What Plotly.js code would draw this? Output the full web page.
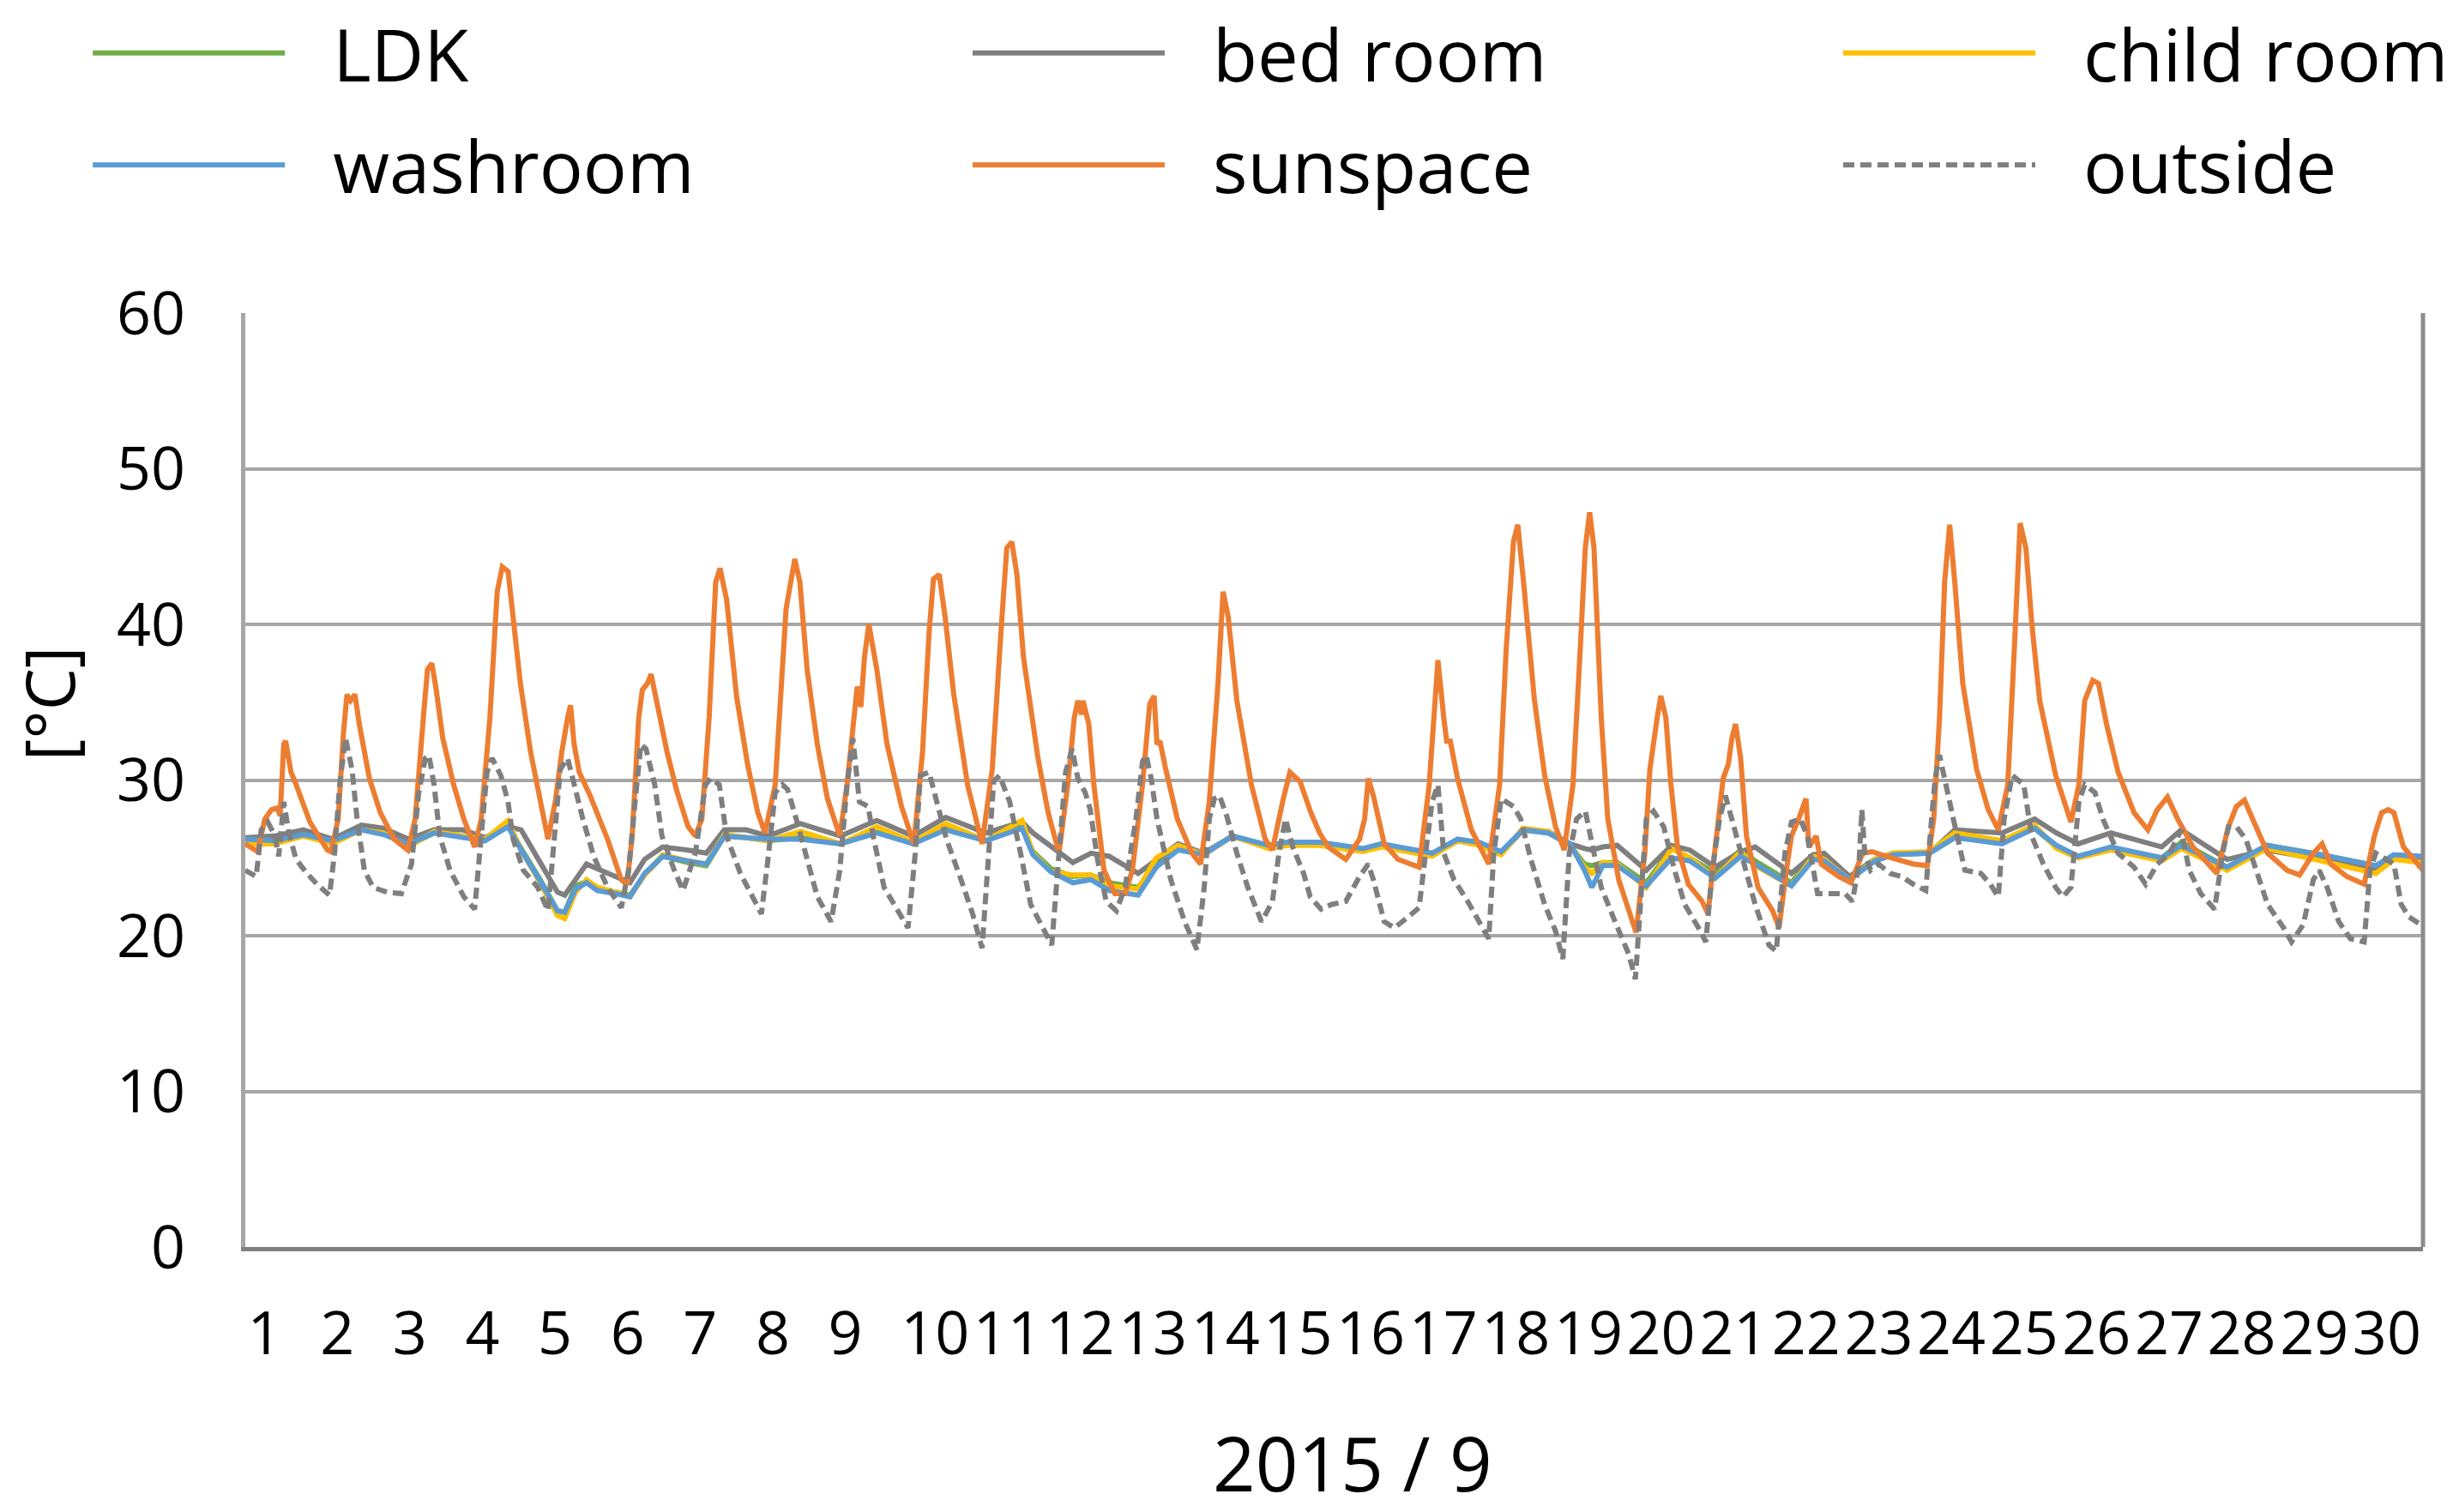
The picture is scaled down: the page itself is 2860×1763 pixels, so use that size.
<!DOCTYPE html>
<html>
<head>
<meta charset="utf-8">
<script src="https://cdn.plot.ly/plotly-3.0.1.min.js"></script>
<style>
  html, body { margin: 0; padding: 0; background: #fff; }
  #chart { width: 2860px; height: 1763px; }
</style>
</head>
<body>
<div id="chart"></div>
<script>
// September 2015, x = days since 1 Sep 00:00
const dayLabels = ['1','2','3','4','5','6','7','8','9','10','11','12','13','14','15',
  '16','17','18','19','20','21','22','23','24','25','26','27','28','29','30'];
const dayStarts = [0,1,2,3,4,5,6,7,8,9,10,11,12,13,14,15,16,17,18,19,20,21,22,23,24,25,26,27,28,29];

// indoor rooms share one time grid
const tIndoor = [
  0, 0.4, 0.8, 1.2, 1.6, 1.9, 2.25, 2.6, 3.0, 3.3,
  3.62, 3.8, 4.05, 4.3, 4.4, 4.55, 4.7, 4.85, 5.1, 5.3,
  5.5, 5.75, 6.1, 6.35, 6.6, 6.9, 7.2, 7.65, 8.2, 8.7,
  9.2, 9.65, 10.2, 10.7, 10.85, 11.1, 11.4, 11.65, 11.9, 12.3,
  12.55, 12.85, 13.2, 13.6, 14.1, 14.35, 14.8, 15.1, 15.4, 15.65,
  16.0, 16.35, 16.7, 17.0, 17.3, 17.6, 17.95, 18.25, 18.45, 18.55,
  18.7, 18.9, 19.3, 19.65, 19.9, 20.25, 20.6, 20.8, 21.3, 21.6,
  21.75, 22.1, 22.45, 22.7, 23.2, 23.55, 24.2, 24.65, 24.95, 25.25,
  25.7, 26.4, 26.67, 27.3, 27.85, 28.6, 29.35, 29.6, 30.0
];
const ldk = [
  26.1, 26.0, 26.5, 26.0, 26.8, 26.6, 25.8, 26.6, 26.4, 26.1,
  27.1, 25.6, 23.7, 21.6, 21.5, 23.2, 23.5, 23.0, 22.8, 22.6,
  23.9, 25.1, 24.7, 24.5, 26.4, 26.3, 26.1, 26.3, 25.9, 26.8,
  25.9, 27.0, 26.1, 27.0, 25.4, 24.3, 23.8, 23.9, 23.4, 23.1,
  24.6, 25.6, 25.2, 26.4, 25.7, 25.9, 25.9, 25.7, 25.5, 25.8,
  25.5, 25.2, 26.1, 25.9, 25.3, 26.8, 26.6, 25.8, 24.6, 24.5,
  24.7, 24.7, 23.4, 25.6, 25.0, 24.0, 25.5, 24.8, 23.4, 25.2,
  25.0, 23.8, 24.9, 25.2, 25.3, 26.3, 26.0, 26.9, 25.7, 25.1,
  25.6, 25.0, 26.0, 24.4, 25.8, 25.2, 24.5, 25.1, 25.0
];
const bedRoom = [
  26.3, 26.4, 26.8, 26.2, 27.1, 26.9, 26.2, 26.8, 26.8, 26.3,
  27.0, 26.8, 24.8, 22.8, 22.6, 23.6, 24.6, 24.3, 23.8, 23.4,
  24.9, 25.7, 25.5, 25.3, 26.8, 26.8, 26.4, 27.2, 26.4, 27.4,
  26.4, 27.6, 26.6, 27.3, 26.6, 25.7, 24.7, 25.3, 25.1, 24.0,
  24.9, 25.9, 25.3, 26.4, 25.7, 25.9, 25.9, 25.7, 25.5, 25.8,
  25.5, 25.2, 26.1, 25.9, 25.3, 26.8, 26.7, 25.9, 25.6, 25.5,
  25.7, 25.8, 24.2, 25.8, 25.5, 24.4, 25.4, 25.7, 24.0, 25.2,
  25.3, 23.8, 24.9, 25.3, 25.3, 26.8, 26.6, 27.5, 26.6, 25.9,
  26.6, 25.7, 26.8, 24.9, 25.5, 24.9, 24.2, 24.9, 24.9
];
const childRoom = [
  25.9, 25.9, 26.4, 25.9, 26.8, 26.6, 25.7, 26.7, 26.4, 26.2,
  27.4, 25.5, 23.5, 21.3, 21.1, 22.8, 23.6, 23.1, 22.8, 22.5,
  23.9, 25.2, 24.8, 24.6, 26.5, 26.3, 26.1, 26.7, 25.9, 27.0,
  26.0, 27.2, 26.1, 27.4, 25.3, 24.1, 23.9, 23.9, 23.2, 23.0,
  25.0, 25.8, 25.2, 26.4, 25.6, 25.8, 25.8, 25.6, 25.4, 25.7,
  25.4, 25.1, 26.1, 25.8, 25.2, 26.9, 26.7, 25.8, 24.4, 24.0,
  24.7, 24.6, 23.1, 25.6, 25.0, 23.7, 25.4, 24.5, 23.2, 25.1,
  24.9, 23.6, 24.9, 25.3, 25.4, 26.6, 26.1, 27.1, 25.6, 25.0,
  25.5, 24.8, 25.6, 24.2, 25.6, 24.8, 24.0, 24.9, 24.7
];
const washroom = [
  26.2, 26.1, 26.5, 26.1, 26.8, 26.5, 25.9, 26.6, 26.3, 26.1,
  27.0, 25.5, 23.6, 21.6, 21.5, 23.0, 23.4, 22.9, 22.7, 22.5,
  24.0, 25.1, 24.8, 24.6, 26.4, 26.3, 26.2, 26.2, 25.9, 26.6,
  25.9, 26.8, 26.1, 26.9, 25.2, 24.1, 23.4, 23.6, 22.9, 22.6,
  24.4, 25.5, 25.2, 26.4, 25.8, 26.0, 26.0, 25.8, 25.6, 25.9,
  25.6, 25.3, 26.2, 26.0, 25.4, 26.8, 26.6, 25.9, 24.2, 23.1,
  24.5, 24.5, 23.2, 25.0, 24.8, 23.7, 25.1, 24.6, 23.2, 24.9,
  24.8, 23.6, 24.8, 25.2, 25.3, 26.3, 25.9, 26.9, 25.8, 25.1,
  25.7, 25.0, 25.8, 24.4, 25.8, 25.2, 24.5, 25.2, 25.1
];

// sunspace: [day, degC]
const sunspace = [
  [0,25.9],[0.17,25.4],[0.27,27.5],[0.36,28.1],[0.44,28.2],[0.48,27.7],[0.53,32.3],[0.556,32.5],[0.63,30.5],[0.70,29.7],
  [0.89,27.3],[1.13,25.5],[1.18,25.4],[1.28,27.5],[1.35,32.9],[1.40,35.5],[1.45,35.1],[1.51,35.5],[1.57,33.6],[1.71,30.1],
  [1.86,27.9],[2.05,26.2],[2.24,25.5],[2.34,27.5],[2.46,34.4],[2.51,37.1],[2.57,37.5],[2.63,35.8],[2.72,32.7],[2.87,29.7],
  [3.01,27.5],[3.16,25.7],[3.25,27.5],[3.37,34.0],[3.47,42.1],[3.54,43.7],[3.62,43.4],[3.69,40.5],[3.79,36.2],[3.93,31.8],
  [4.07,28.3],[4.17,26.2],[4.27,28.6],[4.36,31.8],[4.44,34.0],[4.48,34.8],[4.53,32.3],[4.60,30.5],[4.75,29.0],[4.99,26.2],
  [5.18,23.6],[5.26,23.3],[5.33,26.4],[5.42,34.0],[5.47,35.8],[5.54,36.2],[5.59,36.8],[5.66,35.1],[5.81,31.8],[5.95,29.2],
  [6.10,27.0],[6.20,26.4],[6.29,27.5],[6.39,34.0],[6.48,42.7],[6.54,43.6],[6.63,41.6],[6.77,35.3],[6.92,31.0],[7.06,27.9],
  [7.16,26.6],[7.30,29.7],[7.45,41.0],[7.57,44.2],[7.64,42.7],[7.74,37.1],[7.88,32.3],[8.02,28.8],[8.19,26.4],[8.29,29.7],
  [8.39,34.0],[8.43,36.0],[8.48,34.7],[8.53,37.9],[8.59,40.0],[8.70,37.1],[8.84,32.3],[9.04,28.3],[9.21,25.9],[9.33,31.8],
  [9.42,39.5],[9.48,42.9],[9.56,43.2],[9.64,40.5],[9.76,35.5],[9.95,29.7],[10.15,25.9],[10.29,30.7],[10.41,39.5],[10.49,44.9],
  [10.56,45.3],[10.63,43.2],[10.72,37.9],[10.92,31.4],[11.06,27.9],[11.21,25.3],[11.33,29.7],[11.42,34.0],[11.47,35.1],[11.52,34.2],
  [11.54,35.1],[11.62,33.6],[11.69,29.7],[11.83,24.2],[11.98,22.7],[12.12,22.7],[12.22,24.2],[12.36,29.7],[12.46,34.9],[12.52,35.4],
  [12.56,32.3],[12.60,32.5],[12.68,30.7],[12.84,27.5],[13.04,25.3],[13.16,24.6],[13.28,28.6],[13.40,36.2],[13.47,42.1],[13.54,40.5],
  [13.66,35.1],[13.86,29.7],[14.05,26.2],[14.15,25.5],[14.29,28.6],[14.39,30.5],[14.53,29.9],[14.68,27.9],[14.80,26.6],[14.92,25.7],
  [15.16,24.9],[15.35,26.2],[15.42,27.5],[15.47,30.1],[15.54,29.0],[15.69,25.9],[15.88,24.9],[16.17,24.4],[16.31,29.7],[16.39,35.1],
  [16.43,37.7],[16.51,34.0],[16.55,32.5],[16.60,32.5],[16.70,30.1],[16.89,26.8],[17.13,24.6],[17.28,29.7],[17.37,38.4],[17.47,45.3],
  [17.53,46.4],[17.61,42.7],[17.76,35.1],[17.90,30.3],[18.05,27.0],[18.17,25.5],[18.29,29.7],[18.39,38.4],[18.46,44.9],[18.52,47.2],
  [18.58,44.9],[18.68,34.0],[18.77,27.5],[18.92,23.6],[19.16,20.2],[19.28,25.3],[19.35,30.7],[19.45,34.0],[19.50,35.4],[19.57,34.0],
  [19.64,29.7],[19.73,25.7],[19.88,23.3],[20.07,22.2],[20.15,21.4],[20.24,25.3],[20.36,30.1],[20.43,31.0],[20.48,32.7],[20.53,33.6],
  [20.60,31.4],[20.68,26.4],[20.84,23.1],[21.04,21.6],[21.13,20.5],[21.23,24.2],[21.30,26.4],[21.40,27.5],[21.50,28.8],[21.54,25.7],
  [21.64,26.4],[21.71,24.6],[21.95,23.8],[22.12,23.4],[22.28,25.3],[22.41,25.4],[22.60,25.1],[22.98,24.6],[23.17,24.5],[23.26,27.5],
  [23.34,34.0],[23.41,42.7],[23.48,46.4],[23.55,42.7],[23.66,36.2],[23.85,30.7],[24.01,28.1],[24.15,26.8],[24.28,29.7],[24.37,38.4],
  [24.45,46.5],[24.53,44.9],[24.61,40.1],[24.72,35.1],[24.94,30.3],[25.15,27.3],[25.26,29.7],[25.34,35.1],[25.45,36.4],[25.53,36.2],
  [25.64,33.6],[25.80,30.5],[26.02,27.9],[26.21,26.8],[26.34,28.1],[26.48,28.9],[26.62,27.5],[26.83,25.7],[27.16,24.0],[27.32,27.0],
  [27.43,28.3],[27.54,28.7],[27.70,27.0],[27.86,25.3],[28.13,24.2],[28.30,23.9],[28.49,25.3],[28.61,25.9],[28.73,24.6],[28.95,23.8],
  [29.19,23.3],[29.33,26.4],[29.43,27.9],[29.52,28.1],[29.60,27.9],[29.73,25.7],[30.0,24.2]
];

// outside air: [day, degC]
const outside = [
  [0,24.2],[0.15,23.8],[0.22,26.8],[0.31,27.3],[0.41,26.4],[0.46,25.1],[0.53,28.6],[0.60,26.6],[0.70,24.9],[0.85,24.0],
  [0.99,23.3],[1.16,22.6],[1.23,25.3],[1.30,29.7],[1.38,32.7],[1.47,30.7],[1.54,27.5],[1.64,24.2],[1.76,23.1],[1.95,22.8],
  [2.15,22.7],[2.29,24.6],[2.39,29.2],[2.48,31.4],[2.53,31.6],[2.60,29.7],[2.68,26.4],[2.82,24.2],[3.01,22.5],[3.16,21.7],
  [3.25,26.4],[3.33,30.5],[3.40,31.4],[3.52,30.3],[3.62,28.6],[3.69,26.2],[3.83,24.2],[4.03,23.1],[4.17,21.6],[4.27,27.5],
  [4.34,30.7],[4.44,31.4],[4.56,29.2],[4.65,27.5],[4.80,25.1],[4.99,23.1],[5.18,21.8],[5.28,24.2],[5.37,28.6],[5.45,32.3],
  [5.52,32.0],[5.64,29.7],[5.74,26.4],[5.91,24.2],[6.03,22.9],[6.20,25.3],[6.34,29.7],[6.41,30.1],[6.53,29.7],[6.63,26.4],
  [6.82,24.0],[6.97,22.7],[7.11,21.4],[7.21,25.3],[7.30,29.2],[7.40,29.7],[7.47,29.4],[7.59,27.5],[7.74,24.9],[7.88,22.5],
  [8.07,20.9],[8.19,24.2],[8.29,29.7],[8.37,32.7],[8.46,28.6],[8.58,28.3],[8.65,26.4],[8.80,23.1],[8.99,21.6],[9.13,20.5],
  [9.23,25.3],[9.30,30.3],[9.42,30.5],[9.52,28.6],[9.66,26.2],[9.86,23.6],[10.02,21.4],[10.15,19.2],[10.24,25.3],[10.31,29.9],
  [10.39,30.3],[10.53,28.6],[10.68,25.3],[10.82,22.0],[11.01,20.3],[11.11,19.4],[11.21,25.3],[11.30,30.5],[11.39,32.0],[11.47,30.1],
  [11.57,29.2],[11.64,28.1],[11.74,24.9],[11.86,22.2],[12.00,21.6],[12.12,23.1],[12.27,27.5],[12.36,31.2],[12.41,31.6],[12.48,30.1],
  [12.56,27.5],[12.75,23.6],[12.94,20.9],[13.11,19.1],[13.21,23.1],[13.28,27.5],[13.35,28.8],[13.42,29.0],[13.52,27.7],[13.66,25.3],
  [13.81,23.1],[14.00,20.9],[14.15,22.2],[14.24,25.3],[14.33,27.5],[14.43,25.7],[14.58,24.0],[14.67,22.5],[14.82,21.7],[14.96,22.0],
  [15.16,22.2],[15.35,23.8],[15.47,24.6],[15.54,23.6],[15.69,20.9],[15.83,20.5],[16.02,21.2],[16.17,21.8],[16.26,25.3],[16.35,28.6],
  [16.43,29.7],[16.51,25.3],[16.65,23.6],[16.84,22.2],[17.13,19.8],[17.20,25.3],[17.30,28.8],[17.47,28.3],[17.57,27.5],[17.71,24.9],
  [17.90,22.0],[18.05,20.3],[18.15,18.5],[18.24,25.3],[18.34,27.5],[18.46,28.0],[18.58,25.3],[18.68,23.1],[18.87,20.9],[19.06,18.8],
  [19.15,17.2],[19.23,23.1],[19.30,27.5],[19.40,28.0],[19.54,27.0],[19.69,24.2],[19.83,22.0],[20.02,20.5],[20.12,19.6],[20.21,24.2],
  [20.31,27.5],[20.39,29.0],[20.48,27.5],[20.60,25.3],[20.80,22.0],[20.99,19.4],[21.09,19.0],[21.21,25.3],[21.30,27.3],[21.42,27.5],
  [21.52,26.4],[21.66,22.7],[21.81,22.7],[22.04,22.7],[22.14,22.2],[22.23,24.6],[22.27,28.1],[22.31,25.3],[22.39,24.2],[22.50,24.6],
  [22.66,24.0],[22.82,23.8],[22.98,23.3],[23.15,22.9],[23.23,27.5],[23.28,30.1],[23.34,31.6],[23.42,29.7],[23.53,27.5],[23.69,24.2],
  [23.91,24.0],[24.04,23.3],[24.15,22.5],[24.23,27.5],[24.34,30.3],[24.50,29.7],[24.61,26.4],[24.77,24.6],[24.94,23.1],[25.04,22.5],
  [25.15,23.1],[25.26,28.6],[25.34,29.7],[25.48,29.2],[25.59,27.5],[25.80,25.3],[26.02,24.4],[26.18,23.3],[26.34,24.6],[26.51,25.3],
  [26.62,26.4],[26.67,26.8],[26.78,24.2],[26.94,22.7],[27.13,21.7],[27.24,25.3],[27.32,27.0],[27.43,27.0],[27.56,26.2],[27.70,24.2],
  [27.86,22.0],[28.08,20.5],[28.19,19.6],[28.35,20.7],[28.49,23.6],[28.57,24.2],[28.68,23.1],[28.84,20.9],[29.00,19.8],[29.19,19.6],
  [29.27,24.2],[29.35,25.3],[29.60,24.6],[29.70,22.0],[29.81,21.2],[29.97,20.7]
];

const FONT = 'Open Sans, Noto Sans, sans-serif';
const GAP = '\u2002\u200A'; // space between legend line and label

function line(name, x, y, color, legend, extra) {
  return Object.assign({
    type: 'scatter', mode: 'lines', name: GAP + name, x: x, y: y,
    legend: legend, legendgroup: name,
    line: { color: color, width: 6 },
    hoverinfo: 'skip'
  }, extra || {});
}

const traces = [
  line('LDK', tIndoor, ldk, '#70AD47', 'legend'),
  line('bed room', tIndoor, bedRoom, '#7F7F7F', 'legend2'),
  line('child room', tIndoor, childRoom, '#FFC000', 'legend3'),
  line('washroom', tIndoor, washroom, '#5B9BD5', 'legend'),
  line('sunspace', sunspace.map(p => p[0]), sunspace.map(p => p[1]), '#ED7D31', 'legend2'),
  line('outside', outside.map(p => p[0]), outside.map(p => p[1]), '#7F7F7F', 'legend3',
    { line: { color: '#7F7F7F', width: 6, dash: '13px,7px' } })
];

const legendBase = {
  orientation: 'v', yref: 'container', yanchor: 'top', xanchor: 'left', y: 1,
  font: { family: FONT, size: 85, color: '#000' },
  bgcolor: 'rgba(0,0,0,0)', itemwidth: 224, traceorder: 'grouped', tracegroupgap: 17
};

const layout = {
  width: 2860, height: 1763,
  margin: { l: 286, r: 35, t: 365, b: 309 },
  paper_bgcolor: '#fff', plot_bgcolor: '#fff',
  font: { family: FONT, color: '#000' },
  showlegend: true,
  legend: Object.assign({}, legendBase, { x: -0.072 }),
  legend2: Object.assign({}, legendBase, { x: 0.332 }),
  legend3: Object.assign({}, legendBase, { x: 0.736 }),
  xaxis: {
    range: [0, 30], tickmode: 'array', tickvals: dayStarts, ticktext: dayLabels,
    ticklabelposition: 'outside right', tickangle: 0, ticks: '',
    ticklabelstandoff: 36,
    tickfont: { family: FONT, size: 70, color: '#000' },
    showgrid: false, zeroline: false,
    showline: true, linecolor: '#7F7F7F', linewidth: 5
  },
  yaxis: {
    range: [0, 60], dtick: 10, ticks: '',
    ticklabelstandoff: 51,
    tickfont: { family: FONT, size: 70, color: '#000' },
    showgrid: true, gridcolor: '#A6A6A6', gridwidth: 4, zeroline: false,
    showline: true, linecolor: '#A6A6A6', linewidth: 5
  },
  shapes: [
    { type: 'line', xref: 'paper', yref: 'paper', x0: 1, x1: 1, y0: 0, y1: 1,
      line: { color: '#8C8C8C', width: 5 } }
  ],
  annotations: [
    { text: '[°C]', xref: 'paper', yref: 'paper', x: -0.0902, y: 0.582,
      xanchor: 'center', yanchor: 'middle', textangle: -90, showarrow: false,
      font: { family: FONT, size: 78, color: '#000' } },
    { text: '2015 / 9', xref: 'paper', yref: 'paper', x: 0.5085, y: -0.2305,
      xanchor: 'center', yanchor: 'middle', showarrow: false,
      font: { family: FONT, size: 87, color: '#000' } }
  ]
};

Plotly.newPlot('chart', traces, layout, { displayModeBar: false, staticPlot: true });
</script>
</body>
</html>
